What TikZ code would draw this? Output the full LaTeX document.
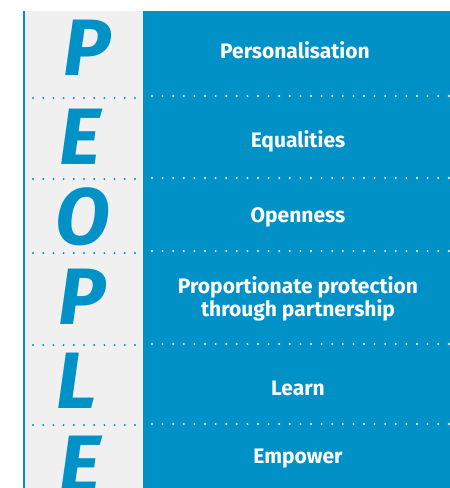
\documentclass[tikz,border=0pt]{standalone}
\usepackage{fontspec}
\setmainfont{Fira Sans}
\newfontfamily\letterfont{Fira Sans}
\definecolor{pblue}{HTML}{0091C7}
\definecolor{pgrey}{HTML}{F0F0F0}
\begin{document}
\begin{tikzpicture}[x=1pt,y=-1pt,
  lbl/.style={text=white,font=\fontsize{21}{23}\selectfont\bfseries,align=center},
  big/.style={text=pblue,font=\fontsize{80}{82}\selectfont\letterfont\bfseries\itshape},
  greydots/.style={pblue,line width=2.2pt,line cap=round,dash pattern=on 0pt off 10.2pt},
  whitedots/.style={white,line width=2.2pt,line cap=round,dash pattern=on 0pt off 10.6pt}]
\useasboundingbox (0,0) rectangle (450,488);
\fill[white] (0,0) rectangle (450,488);
\fill[pgrey] (25,11) rectangle (143,488);
\fill[pblue] (143,11) rectangle (450,488);
\fill[pblue] (23,11) rectangle (25,488);
% dotted separators
\foreach \yy/\yb in {98/96,179/178,253/251,345/344,425/424}{
  \draw[greydots] (33,\yy) -- (142,\yy);
  \draw[whitedots] (152,\yb) -- (450,\yb);
}
% letters
\node[big] (l1) at (87,48) {P};
\node[big] (l2) at (80,137) {E};
\node[big] (l3) at (83,217) {O};
\node[big] (l4) at (82,297) {P};
\node[big] (l5) at (77,381) {L};
\node[big] (l6) at (80,464) {E};
% labels
\node[lbl] (t1) at (295,50) {Personalisation};
\node[lbl] (t2) at (298,141) {Equalities};
\node[lbl] (t3) at (298,217) {Openness};
\node[lbl] (t4) at (298,299) {Proportionate protection\\through partnership};
\node[lbl] (t5) at (298,388) {Learn};
\node[lbl] (t6) at (298,459) {Empower};
\end{tikzpicture}
\end{document}
